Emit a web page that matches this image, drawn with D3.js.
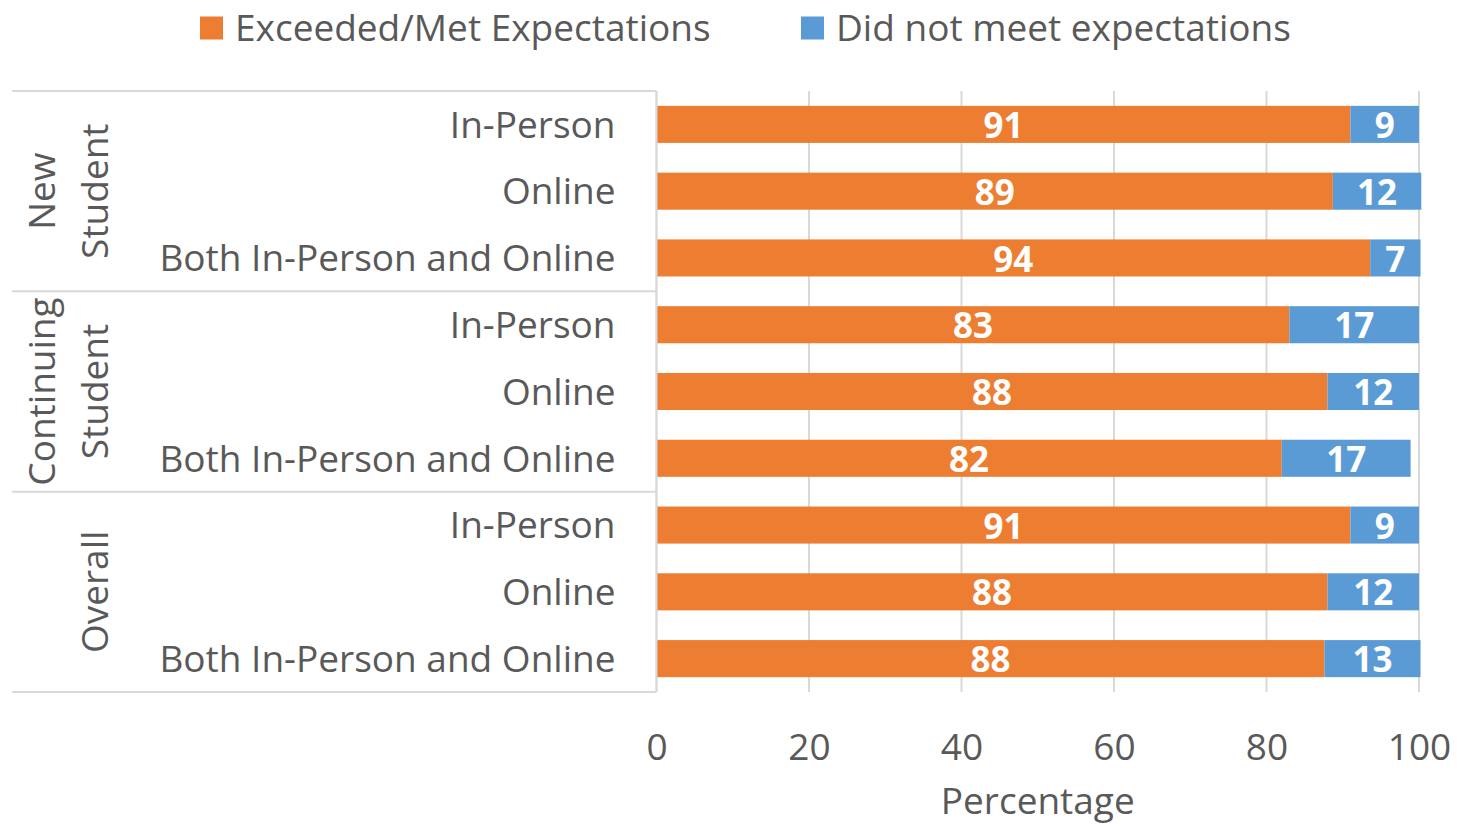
<!DOCTYPE html>
<html>
<head>
<meta charset="utf-8">
<script src="https://cdn.jsdelivr.net/npm/d3@7"></script>
<style>
  body { margin: 0; background: #fff; }
  text { font-family: "Open Sans", "Noto Sans", sans-serif; }
</style>
</head>
<body>
<div id="chart"></div>
<script>
// data (percentages; labels are shown rounded)
var groups = ["New Student", "Continuing Student", "Overall"];
var groupLines = [["New", "Student"], ["Continuing", "Student"], ["Overall"]];
var modes = ["In-Person", "Online", "Both In-Person and Online"];
var metValues = [91.0, 88.7, 93.6, 83.0, 88.0, 82.0, 91.0, 88.0, 87.6];
var notMetValues = [9.0, 11.6, 6.6, 17.0, 12.0, 16.9, 9.0, 12.0, 12.6];
var seriesNames = ["Exceeded/Met Expectations", "Did not meet expectations"];
var xTicks = [0, 20, 40, 60, 80, 100];

var width = 1457, height = 827;
var colors = ["#ED7D31", "#5B9BD5"];
var textColor = "#595959";
var gridColor = "#d9d9d9";
var fontSize = "37px";

var margin = {top: 91, right: 38, bottom: 135, left: 656.5};

var svg = d3.select("#chart").append("svg")
    .attr("width", width)
    .attr("height", height);

// build rows
var rows = [];
groups.forEach(function(g, gi) {
    modes.forEach(function(m, mi) {
        var i = gi * modes.length + mi;
        rows.push({id: i, group: g, gi: gi, mode: m, met: metValues[i], notMet: notMetValues[i]});
    });
});

var x = d3.scaleLinear().domain([0, 100]).range([margin.left, width - margin.right]);
var y = d3.scaleBand().domain(rows.map(function(d) { return d.id; }))
    .range([margin.top, height - margin.bottom])
    .paddingInner(0.445).paddingOuter(0.2225);
var groupY = d3.scaleBand().domain(groups).range([margin.top, height - margin.bottom]);
var fmt = d3.format(".0f");

// gridlines
svg.append("g").selectAll("line").data(xTicks).join("line")
    .attr("x1", function(d) { return x(d); })
    .attr("x2", function(d) { return x(d); })
    .attr("y1", margin.top)
    .attr("y2", height - margin.bottom)
    .style("stroke", gridColor)
    .style("stroke-width", 2);

// category box lines
var boxLeft = 12;
svg.append("g").selectAll("line").data(groups.concat(["end"])).join("line")
    .attr("x1", boxLeft)
    .attr("x2", x(0))
    .attr("y1", function(d) { return d === "end" ? groupY.range()[1] : groupY(d); })
    .attr("y2", function(d) { return d === "end" ? groupY.range()[1] : groupY(d); })
    .style("stroke", gridColor)
    .style("stroke-width", 2);

// bars
var stack = d3.stack().keys(["met", "notMet"]);
var stacked = stack(rows);

var layers = svg.append("g").selectAll("g").data(stacked).join("g")
    .style("fill", function(d, i) { return colors[i]; });

layers.selectAll("rect").data(function(d) { return d; }).join("rect")
    .attr("x", function(d) { return x(d[0]); })
    .attr("y", function(d) { return y(d.data.id); })
    .attr("width", function(d) { return x(d[1]) - x(d[0]); })
    .attr("height", y.bandwidth());

// value labels
layers.selectAll("text").data(function(d) { return d; }).join("text")
    .attr("x", function(d) { return (x(d[0]) + x(d[1])) / 2; })
    .attr("y", function(d) { return y(d.data.id) + y.bandwidth() / 2 + 1; })
    .attr("dy", "0.36em")
    .attr("text-anchor", "middle")
    .style("fill", "#fff")
    .style("font-weight", "bold")
    .style("font-size", "35px")
    .text(function(d) { return fmt(d[1] - d[0]); });

// y axis line
svg.append("line")
    .attr("x1", x(0)).attr("x2", x(0))
    .attr("y1", margin.top).attr("y2", height - margin.bottom)
    .style("stroke", gridColor)
    .style("stroke-width", 2);

// sub category labels
svg.append("g").selectAll("text").data(rows).join("text")
    .attr("x", x(0) - 41)
    .attr("y", function(d) { return y(d.id) + y.bandwidth() / 2; })
    .attr("dy", "0.36em")
    .attr("text-anchor", "end")
    .style("fill", textColor)
    .style("font-size", fontSize)
    .text(function(d) { return d.mode; });

// group labels (rotated)
var lineX = [42, 95];
groups.forEach(function(g, gi) {
    var lines = groupLines[gi];
    var cy = groupY(g) + groupY.bandwidth() / 2;
    lines.forEach(function(t, li) {
        var lx = lineX[lines.length === 1 ? 1 : li];
        svg.append("text")
            .attr("transform", "translate(" + lx + "," + cy + ") rotate(-90)")
            .attr("dy", "0.36em")
            .attr("text-anchor", "middle")
            .style("fill", textColor)
            .style("font-size", fontSize)
            .text(t);
    });
});

// x axis
var xAxis = d3.axisBottom(x).tickValues(xTicks).tickSize(0).tickPadding(0);
var gx = svg.append("g")
    .attr("transform", "translate(0," + 747 + ")")
    .call(xAxis);
gx.select(".domain").remove();
gx.selectAll("text")
    .attr("dy", "0.36em")
    .style("fill", textColor)
    .style("font-size", fontSize)
    .style("font-family", "'Open Sans', sans-serif");

svg.append("text")
    .attr("x", (x(0) + x(100)) / 2)
    .attr("y", 801)
    .attr("dy", "0.36em")
    .attr("text-anchor", "middle")
    .style("fill", textColor)
    .style("font-size", fontSize)
    .text("Percentage");

// legend
var legendX = [200, 801];
var legend = svg.append("g").selectAll("g").data(seriesNames).join("g")
    .attr("transform", function(d, i) { return "translate(" + legendX[i] + ",28)"; });
legend.append("rect")
    .attr("x", 0).attr("y", -11.5)
    .attr("width", 23).attr("height", 23)
    .style("fill", function(d, i) { return colors[i]; });
legend.append("text")
    .attr("x", 35)
    .attr("dy", "0.36em")
    .style("fill", textColor)
    .style("font-size", fontSize)
    .text(function(d) { return d; });
</script>
</body>
</html>
